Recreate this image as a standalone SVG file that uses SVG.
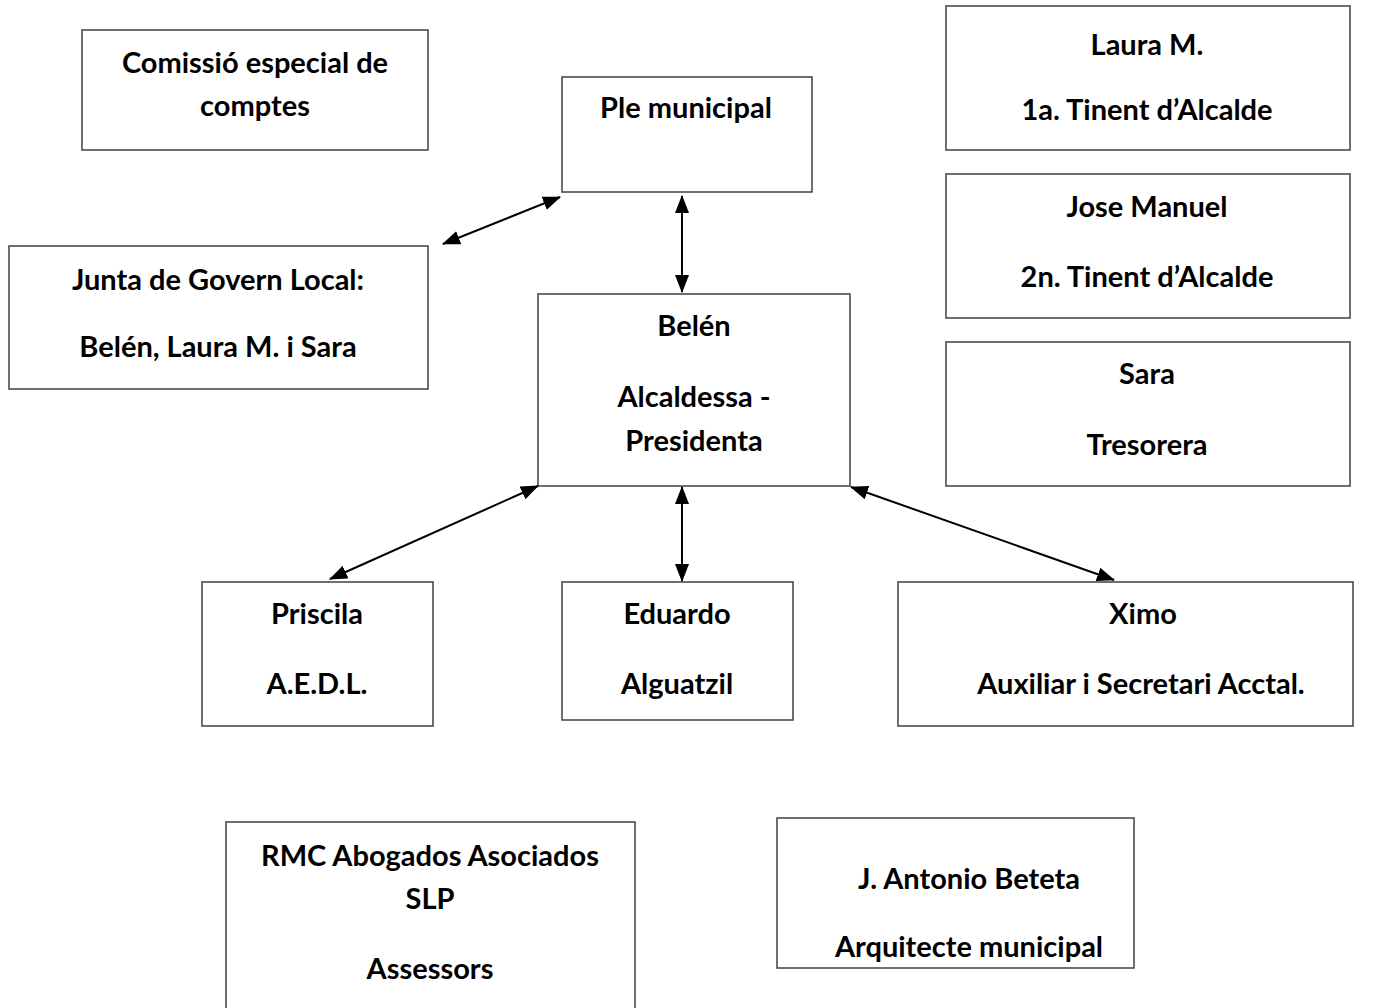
<svg xmlns="http://www.w3.org/2000/svg" width="1388" height="1008" viewBox="0 0 1388 1008">
<defs>
<style>
.box{fill:#fff;stroke:#404040;stroke-width:1.5}
.t{font-family:Lato,"Liberation Sans",sans-serif;font-weight:700;font-size:29px;fill:#000;text-anchor:middle}
.c{stroke:#000;stroke-width:2;fill:none;marker-start:url(#ah);marker-end:url(#ah)}
</style>
<marker id="ah" viewBox="0 0 18 14" refX="17" refY="7" markerWidth="18" markerHeight="14" markerUnits="userSpaceOnUse" orient="auto-start-reverse">
<path d="M0,0 L18,7 L0,14 z" fill="#000"/>
</marker>
</defs>
<rect width="1388" height="1008" fill="#fff"/>
<g id="comissio"><rect class="box" x="82" y="30" width="346" height="120"/><text class="t" x="255" y="73">Comissió especial de</text><text class="t" x="255" y="116">comptes</text></g>
<g id="ple"><rect class="box" x="562" y="77" width="250" height="115"/><text class="t" x="686" y="118">Ple municipal</text></g>
<g id="laura"><rect class="box" x="946" y="6" width="404" height="144"/><text class="t" x="1147" y="55">Laura M.</text><text class="t" x="1147" y="120">1a. Tinent d’Alcalde</text></g>
<g id="jose"><rect class="box" x="946" y="174" width="404" height="144"/><text class="t" x="1147" y="217">Jose Manuel</text><text class="t" x="1147" y="287">2n. Tinent d’Alcalde</text></g>
<g id="sara"><rect class="box" x="946" y="342" width="404" height="144"/><text class="t" x="1147" y="384">Sara</text><text class="t" x="1147" y="455">Tresorera</text></g>
<g id="junta"><rect class="box" x="9" y="246" width="419" height="143"/><text class="t" x="218" y="290">Junta de Govern Local:</text><text class="t" x="218" y="357">Belén, Laura M. i Sara</text></g>
<g id="belen"><rect class="box" x="538" y="294" width="312" height="192"/><text class="t" x="694" y="336">Belén</text><text class="t" x="694" y="407">Alcaldessa -</text><text class="t" x="694" y="451">Presidenta</text></g>
<g id="priscila"><rect class="box" x="202" y="582" width="231" height="144"/><text class="t" x="317" y="624">Priscila</text><text class="t" x="317" y="694">A.E.D.L.</text></g>
<g id="eduardo"><rect class="box" x="562" y="582" width="231" height="138"/><text class="t" x="677" y="624">Eduardo</text><text class="t" x="677" y="694">Alguatzil</text></g>
<g id="ximo"><rect class="box" x="898" y="582" width="455" height="144"/><text class="t" x="1143" y="624">Ximo</text><text class="t" x="1141" y="694">Auxiliar i Secretari Acctal.</text></g>
<g id="rmc"><rect class="box" x="226" y="822" width="409" height="200"/><text class="t" x="430" y="866">RMC Abogados Asociados</text><text class="t" x="430" y="909">SLP</text><text class="t" x="430" y="979">Assessors</text></g>
<g id="antonio"><rect class="box" x="777" y="818" width="357" height="150"/><text class="t" x="969" y="889">J. Antonio Beteta</text><text class="t" x="969" y="957">Arquitecte municipal</text></g>
<g id="connectors">
<line class="c" x1="560" y1="197" x2="443" y2="244"/>
<line class="c" x1="682" y1="196" x2="682" y2="292"/>
<line class="c" x1="538" y1="486" x2="330" y2="579"/>
<line class="c" x1="682" y1="487" x2="682" y2="581"/>
<line class="c" x1="851" y1="487" x2="1114" y2="580"/>
</g>
</svg>
